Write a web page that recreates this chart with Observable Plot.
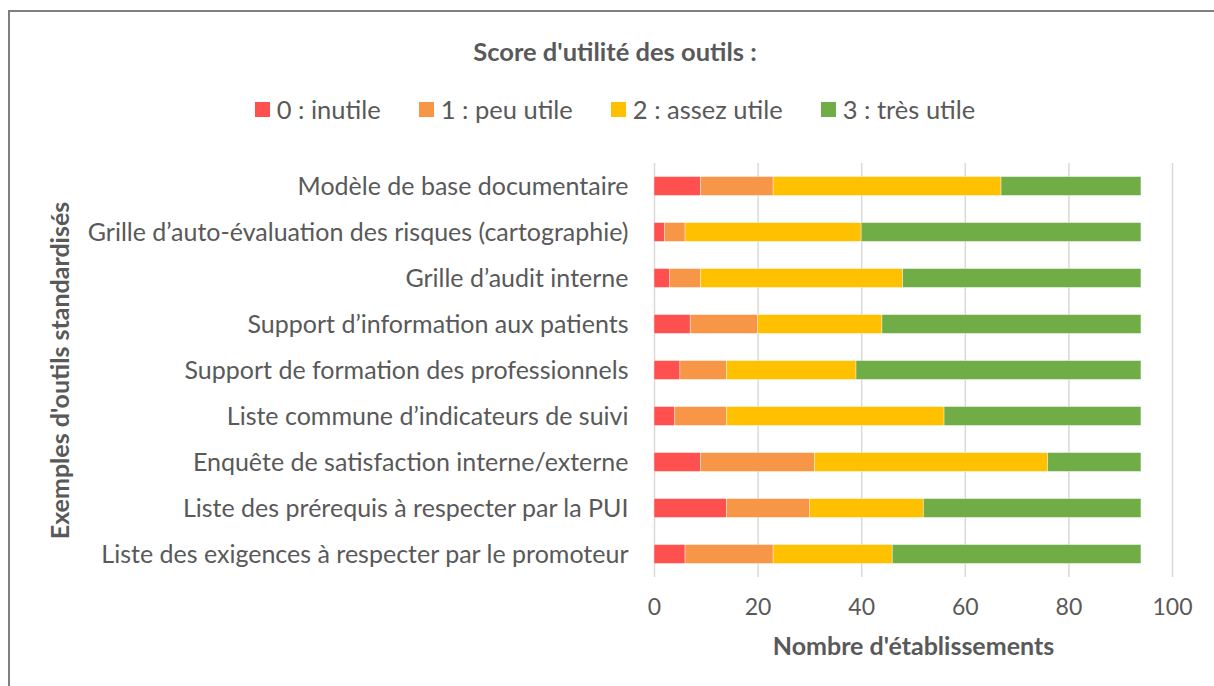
<!DOCTYPE html>
<html>
<head>
<meta charset="utf-8">
<script src="https://cdn.jsdelivr.net/npm/d3@7"></script>
<script src="https://cdn.jsdelivr.net/npm/@observablehq/plot@0.6"></script>
<style>
  html, body { margin: 0; padding: 0; background: #fff; overflow: hidden; }
  body { width: 1214px; height: 686px; position: relative; font-family: Lato, "Open Sans", sans-serif; color: #595959; }
  #frame { position: absolute; left: 8px; top: 10px; width: 1230px; height: 700px; border-left: 2px solid #7f7f7f; border-top: 2px solid #7f7f7f; box-sizing: border-box; }
  #title { position: absolute; left: 8px; width: 1214px; top: 35px; text-align: center; font-weight: bold; font-size: 25.5px; line-height: 32px; }
  #legend { position: absolute; left: 8px; width: 1214px; top: 92px; display: flex; justify-content: center; font-size: 25.5px; line-height: 34px; }
  .item { display: flex; align-items: center; margin: 0 19px; }
  .sw { width: 15px; height: 15px; margin-right: 7px; }
  #chart { position: absolute; left: 0; top: 140px; }
</style>
</head>
<body>
<div id="frame"></div>
<div id="title">Score d'utilité des outils :</div>
<div id="legend"></div>
<div id="chart"></div>
<script>
const categories = [
  "Modèle de base documentaire",
  "Grille d’auto-évaluation des risques (cartographie)",
  "Grille d’audit interne",
  "Support d’information aux patients",
  "Support de formation des professionnels",
  "Liste commune d’indicateurs de suivi",
  "Enquête de satisfaction interne/externe",
  "Liste des prérequis à respecter par la PUI",
  "Liste des exigences à respecter par le promoteur"
];
const scores = ["0 : inutile", "1 : peu utile", "2 : assez utile", "3 : très utile"];
const colors = ["#FF5050", "#F79646", "#FFC000", "#70AD47"];
const inutile    = [9, 2, 3, 7, 5, 4, 9, 14, 6];
const peuUtile   = [14, 4, 6, 13, 9, 10, 22, 16, 17];
const assezUtile = [44, 34, 39, 24, 25, 42, 45, 22, 23];
const tresUtile  = [27, 54, 46, 50, 55, 38, 18, 42, 48];
const xTicks = [0, 20, 40, 60, 80, 100];

const series = [inutile, peuUtile, assezUtile, tresUtile];
const data = [];
categories.forEach((c, i) => {
  series.forEach((s, k) => data.push({outil: c, score: scores[k], n: s[i]}));
});

// legend
const leg = document.getElementById("legend");
scores.forEach((s, k) => {
  const it = document.createElement("div");
  it.className = "item";
  it.innerHTML = `<span class="sw" style="background:${colors[k]}"></span><span>${s}</span>`;
  leg.appendChild(it);
});

const chart = Plot.plot({
  width: 1214,
  height: 546,
  marginLeft: 654,
  marginRight: 42,
  marginTop: 23,
  marginBottom: 109,
  style: {fontFamily: "Lato, 'Open Sans', sans-serif", color: "#595959", background: "transparent", overflow: "visible"},
  x: {domain: [0, 100], ticks: xTicks, label: null},
  y: {domain: categories, paddingInner: 0.59, paddingOuter: 0.295, round: false, label: null},
  color: {domain: scores, range: colors},
  marks: [
    Plot.gridX(xTicks, {stroke: "#d9d9d9", strokeOpacity: 1, strokeWidth: 1.5}),
    Plot.barX(data, Plot.stackX({x: "n", y: "outil", fill: "score", z: "score", order: scores, stroke: "#ffffff", strokeOpacity: 0.5, strokeWidth: 0.75})),
    Plot.axisX(xTicks, {tickSize: 0, tickPadding: 21, fontSize: 23, fill: "#595959", label: null}),
    Plot.axisY({tickSize: 0, tickPadding: 26, fontSize: 25, fill: "#595959", label: null}),
    Plot.text(["Nombre d'établissements"], {frameAnchor: "bottom", lineAnchor: "middle", dy: 69, fontSize: 25, fontWeight: "bold", fill: "#595959"}),
    Plot.text(["Exemples d'outils standardisés"], {frameAnchor: "left", textAnchor: "middle", lineAnchor: "middle", dx: -594, rotate: -90, fontSize: 25, fontWeight: "bold", fill: "#595959"})
  ]
});
document.getElementById("chart").appendChild(chart);
</script>
</body>
</html>
